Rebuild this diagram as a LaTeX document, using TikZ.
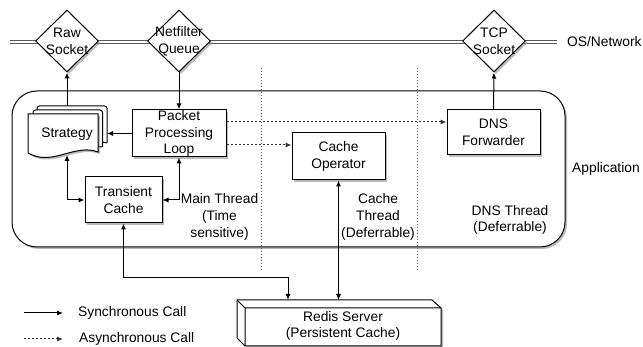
\documentclass[tikz,border=0pt]{standalone}
\usepackage{fontspec}
\setmainfont{Liberation Sans}
\usetikzlibrary{shapes.geometric,arrows.meta,shadows,calc}
\begin{document}
\begin{tikzpicture}[x=1pt,y=-1pt,
  every node/.style={font=\fontsize{13.8}{16.8}\selectfont, inner sep=0pt, align=center},
  shad/.style={drop shadow={shadow xshift=2pt,shadow yshift=-2pt,fill=black!45,opacity=0.6}},
  diam/.style={diamond, draw, fill=white, line width=1pt, minimum width=63pt, minimum height=62pt, shad},
  boxn/.style={rectangle, draw, fill=white, line width=1pt, shad},
  arr/.style={line width=1pt, -{Latex[length=6pt,width=5pt]}},
  arrb/.style={line width=1pt, {Latex[length=6pt,width=5pt]}-{Latex[length=6pt,width=5pt]}},
  darr/.style={line width=1pt, draw=black!80, dash pattern=on 2pt off 2pt, -{Latex[length=6pt,width=5pt]}},
  sep/.style={line width=1pt, draw=black!60, dash pattern=on 1.5pt off 1.5pt},
  page/.style={draw, fill=white, line width=1pt}
]
\useasboundingbox (0,0) rectangle (643,347);

% OS/Network double line
\coordinate (netL) at (10,42);
\coordinate (netR) at (557,42);
\draw[double, draw=black!65, double distance=1.8pt, line width=0.8pt] (netL) -- (netR);
\node[anchor=west] (osnet) at (567,42) {OS/Network};

% diamonds
\node[diam] (raw) at (67,41) {};
\node (rawt) at (raw.center) {Raw\\Socket};
\node[diam] (nf) at (179,41) {};
\node (nft) at (nf.center) {Netfilter\\Queue};
\node[diam] (tcp) at (494,41) {};
\node (tcpt) at (tcp.center) {TCP\\Socket};

% application container
\node[draw, fill=white, line width=1pt, rounded corners=25pt, minimum width=553pt, minimum height=156pt, shad] (app) at (288.5,169) {};
\node (appt) at (606,169) {Application};

% separators
\coordinate (s1t) at (261,68); \coordinate (s1b) at (261,270);
\coordinate (s2t) at (417,68); \coordinate (s2b) at (417,270);
\draw[sep] (s1t) -- (s1b);
\draw[sep] (s2t) -- (s2b);

% Strategy (multi-document)
\draw[page, rounded corners=2.5pt] (37,148) -- (37,106) -- (107,106) -- (107,143);
\draw[page] (107,143) .. controls (105,142) and (104,142) .. (102.5,142);
\draw[page, rounded corners=2.5pt] (33,152) -- (33,110) -- (102.5,110) -- (102.5,147);
\draw[page] (102.5,147) .. controls (101,146.5) and (100,146.5) .. (98,146.5);
\draw[page, shad] (28,153) -- (28,114) -- (98,114) -- (98,152) .. controls (75,143) and (52,167) .. (28,153) -- cycle;
\node (strat) at (67,134) {Strategy};
\coordinate (strT) at (67,106);
\coordinate (strR) at (107,133.5);
\coordinate (strB) at (67,155);

% boxes
\node[boxn, minimum width=94pt, minimum height=47pt] (ppl) at (179,133.5) {Packet\\Processing\\Loop};
\node[boxn, minimum width=77pt, minimum height=46pt] (tc) at (123.5,200) {Transient\\Cache};
\node[boxn, minimum width=93pt, minimum height=47pt] (cop) at (338.5,156.5) {Cache\\Operator};
\node[boxn, minimum width=93pt, minimum height=45pt] (dns) at (493.5,132.5) {DNS\\Forwarder};

% thread labels
\node (mainth) at (219.5,217) {Main Thread\\(Time\\sensitive)};
\node (cacheth) at (378,217) {Cache\\Thread\\(Deferrable)};
\node (dnsth) at (510,220) {DNS Thread\\(Deferrable)};

% Redis server (cube)
\draw[fill=white, line width=1pt, shad] (237,300) -- (432,300) -- (441,308) -- (441,346) -- (245,346) -- (237,338) -- cycle;
\draw[line width=1pt] (237,300) -- (245,308) -- (441,308) (245,308) -- (245,346);
\node (redis) at (343,326) {Redis Server\\(Persistent Cache)};
\coordinate (rA) at (288,300);
\coordinate (rB) at (338.5,300);

% connectors
\draw[arr] (strT) -- (raw.south);
\draw[arr] (nf.south) -- (ppl.north);
\draw[arr] (ppl.west) -- (strR);
\draw[arrb] (strB) |- (tc.west);
\draw[arrb] (ppl.south) |- (tc.east);
\draw[arr] (dns.north) -- (tcp.south);
\coordinate (d1) at ($(ppl.east)+(0,-11.5)$);
\coordinate (d2) at ($(ppl.east)+(0,11.5)$);
\draw[darr] (d1) -- (d1 -| dns.west);
\draw[darr] (d2) -- (d2 -| cop.west);
\draw[arrb] (cop.south) -- (rB);
\draw[arrb] (tc.south) |- ($(rA)+(0,-22)$) -- (rA);

% legend
\coordinate (l1a) at (24,313); \coordinate (l1b) at (63,313);
\coordinate (l2a) at (24,339); \coordinate (l2b) at (63,339);
\draw[arr] (l1a) -- (l1b);
\draw[darr] (l2a) -- (l2b);
\node[anchor=west] (lg1) at (78,313) {Synchronous Call};
\node[anchor=west] (lg2) at (79,339) {Asynchronous Call};
\end{tikzpicture}
\end{document}
